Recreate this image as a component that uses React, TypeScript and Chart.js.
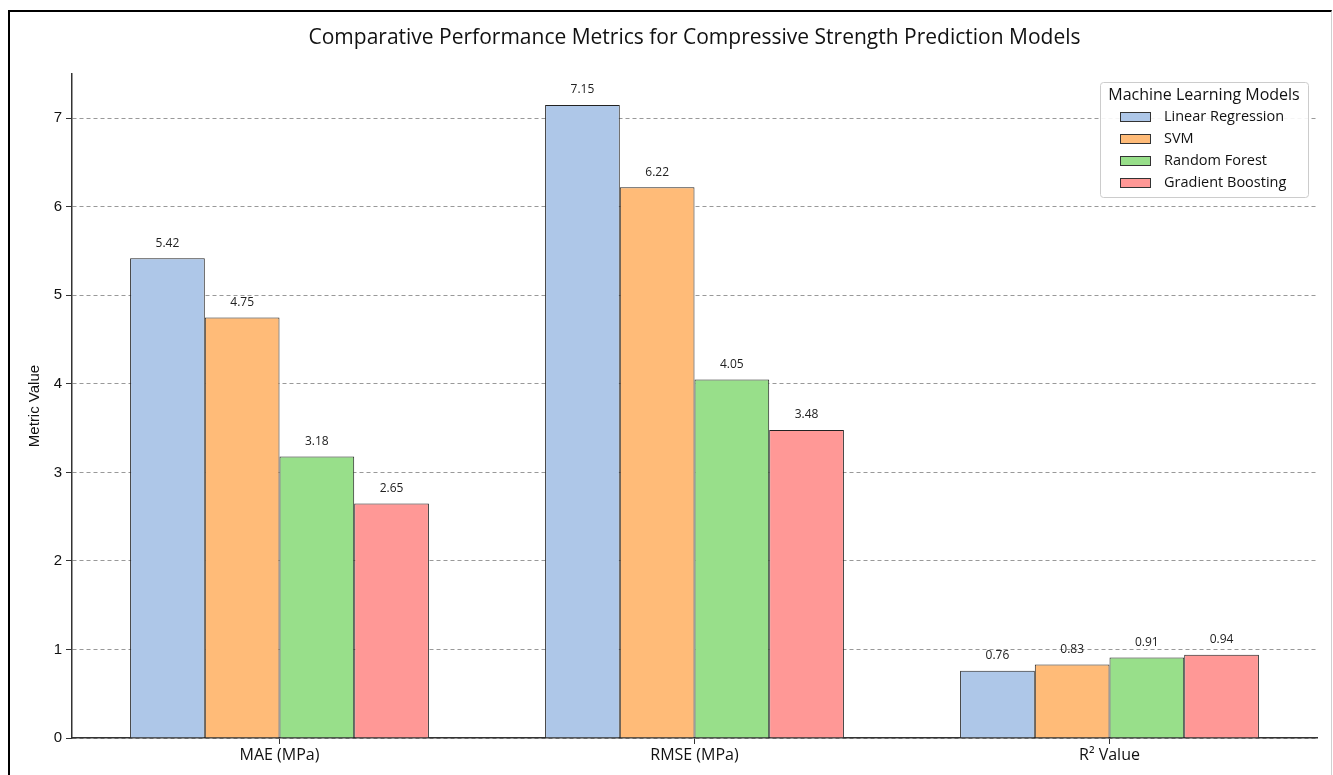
import React, { useEffect, useRef } from "react";
import { Chart, registerables } from "chart.js";

Chart.register(...registerables);

const categories = ["MAE (MPa)", "RMSE (MPa)", "R² Value"];
const modelNames = ["Linear Regression", "SVM", "Random Forest", "Gradient Boosting"];
const linearRegression = [5.42, 7.15, 0.76];
const svm = [4.75, 6.22, 0.83];
const randomForest = [3.18, 4.05, 0.91];
const gradientBoosting = [2.65, 3.48, 0.94];
const yTickValues = [0, 1, 2, 3, 4, 5, 6, 7];
const yMax = 7.5;
const chartTitle = "Comparative Performance Metrics for Compressive Strength Prediction Models";
const legendTitle = "Machine Learning Models";

const colors = ["#aec7e8", "#ffbb78", "#98df8a", "#ff9896"];
const seriesValues = [linearRegression, svm, randomForest, gradientBoosting];

const SANS = "'Open Sans', sans-serif";
const ARIAL = "'Liberation Sans', Arial, sans-serif";

const titlePlugin = {
  id: "axesTitle",
  afterDraw(chart: any) {
    const ctx = chart.ctx;
    const area = chart.chartArea;
    ctx.save();
    ctx.font = `21px ${SANS}`;
    ctx.fillStyle = "#111";
    ctx.textAlign = "center";
    ctx.textBaseline = "middle";
    ctx.fillText(chartTitle, (area.left + area.right) / 2, 26);
    ctx.restore();
  },
};

const valueLabelPlugin = {
  id: "valueLabels",
  afterDatasetsDraw(chart: any) {
    const ctx = chart.ctx;
    ctx.save();
    ctx.font = `12px ${SANS}`;
    ctx.fillStyle = "#222";
    ctx.textAlign = "center";
    ctx.textBaseline = "bottom";
    chart.data.datasets.forEach((ds: any, i: number) => {
      const meta = chart.getDatasetMeta(i);
      meta.data.forEach((el: any, j: number) => {
        ctx.fillText(Number(ds.data[j]).toFixed(2), el.x, el.y - 9);
      });
    });
    ctx.restore();
  },
};

const boxLegendPlugin = {
  id: "boxLegend",
  afterDraw(chart: any) {
    const ctx = chart.ctx;
    const area = chart.chartArea;
    const w = 208;
    const h = 115;
    const x0 = area.right - 9 - w;
    const y0 = area.top + 8;
    ctx.save();
    ctx.fillStyle = "rgba(255,255,255,0.9)";
    ctx.strokeStyle = "#cccccc";
    ctx.lineWidth = 1;
    ctx.beginPath();
    if (ctx.roundRect) ctx.roundRect(x0 + 0.5, y0 + 0.5, w, h, 3);
    else ctx.rect(x0 + 0.5, y0 + 0.5, w, h);
    ctx.fill();
    ctx.stroke();
    ctx.fillStyle = "#111";
    ctx.textAlign = "center";
    ctx.textBaseline = "middle";
    ctx.font = `16px ${SANS}`;
    ctx.fillText(legendTitle, x0 + w / 2, y0 + 13);
    ctx.textAlign = "left";
    ctx.font = `14.5px ${SANS}`;
    chart.data.datasets.forEach((ds: any, i: number) => {
      const cy = y0 + 35 + i * 22;
      ctx.fillStyle = ds.backgroundColor;
      ctx.fillRect(x0 + 20, cy - 5, 31, 10);
      ctx.strokeStyle = "#333";
      ctx.strokeRect(x0 + 20.5, cy - 4.5, 30, 9);
      ctx.fillStyle = "#111";
      ctx.fillText(ds.label, x0 + 64, cy);
    });
    ctx.restore();
  },
};

export default function App() {
  const canvasRef = useRef<HTMLCanvasElement | null>(null);

  useEffect(() => {
    if (!canvasRef.current) return;
    const chart = new Chart(canvasRef.current, {
      type: "bar",
      data: {
        labels: categories,
        datasets: modelNames.map((name, i) => ({
          label: name,
          data: seriesValues[i],
          backgroundColor: colors[i],
          borderColor: "#222",
          borderWidth: 1,
          categoryPercentage: 0.72,
          barPercentage: 1.0,
        })),
      },
      options: {
        responsive: false,
        animation: false,
        layout: { padding: { left: 0, right: 14, top: 62, bottom: 0 } },
        plugins: {
          legend: { display: false },
          tooltip: { enabled: false },
          title: { display: false },
        },
        scales: {
          x: {
            grid: {
              offset: false,
              drawOnChartArea: false,
              drawTicks: true,
              tickLength: 6,
              tickColor: "#333",
              tickWidth: 1,
            },
            border: { display: true, color: "#333", width: 1.5 },
            ticks: { font: { family: SANS, size: 16 }, color: "#111", padding: 2 },
            afterFit: (s: any) => {
              s.height = 37;
            },
          },
          y: {
            min: 0,
            max: yMax,
            afterBuildTicks: (axis: any) => {
              axis.ticks = yTickValues.map((v) => ({ value: v }));
            },
            grid: {
              color: "#999",
              lineWidth: 1,
              drawTicks: true,
              tickLength: 6,
              tickColor: "#333",
              tickBorderDash: [],
            },
            border: { display: true, color: "#333", width: 1.5, dash: [4, 3] },
            ticks: { font: { family: ARIAL, size: 15 }, color: "#111", padding: 4 },
            title: {
              display: true,
              text: "Metric Value",
              font: { family: ARIAL, size: 15 },
              color: "#111",
              padding: { top: 16, bottom: 0 },
            },
            afterFit: (s: any) => {
              s.width = 62;
            },
          },
        },
      },
      plugins: [valueLabelPlugin, boxLegendPlugin, titlePlugin],
    } as any);
    return () => chart.destroy();
  }, []);

  return (
    <div
      style={{
        position: "absolute",
        left: 8,
        top: 10,
        width: 1321,
        height: 765,
        borderLeft: "2px solid #000",
        borderTop: "2px solid #000",
        borderRight: "1px solid #d0d0d0",
        background: "#fff",
        overflow: "hidden",
      }}
    >
      <canvas ref={canvasRef} width={1321} height={763} style={{ display: "block" }} />
    </div>
  );
}
